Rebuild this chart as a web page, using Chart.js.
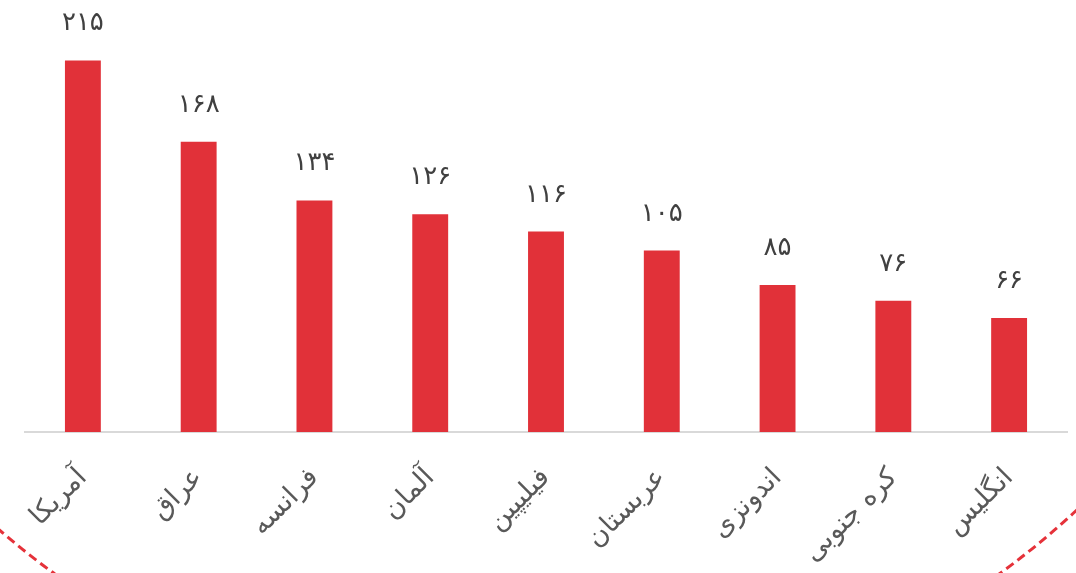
<!DOCTYPE html>
<html>
<head>
<meta charset="utf-8">
<script src="https://cdn.jsdelivr.net/npm/chart.js@4.4.1/dist/chart.umd.min.js"></script>
<style>
html,body{margin:0;padding:0;background:#fff;}
#wrap{width:1076px;height:573px;position:relative;}
</style>
</head>
<body>
<div id="wrap"><canvas id="c" width="1076" height="573"></canvas></div>
<script>
const categories = ['آمریکا','عراق','فرانسه','آلمان','فیلیپین','عربستان','اندونزی','کره جنوبی','انگلیس'];
const values = [215,168,134,126,116,105,85,76,66];
const yMax = 250;

const BAR = '#e13139';
function fa(n){ return String(n).replace(/[0-9]/g, d => '۰۱۲۳۴۵۶۷۸۹'[d]); }

const valueLabels = {
  id:'valueLabels',
  afterDatasetsDraw(chart){
    const ctx = chart.ctx;
    const meta = chart.getDatasetMeta(0);
    ctx.save();
    ctx.font = '26px "DejaVu Sans"';
    ctx.fillStyle = '#404040';
    ctx.textAlign = 'center';
    ctx.textBaseline = 'alphabetic';
    meta.data.forEach((bar,i)=>{
      ctx.fillText(fa(values[i]), bar.x, bar.y - 30);
    });
    ctx.restore();
  }
};

const decor = {
  id:'decor',
  afterDraw(chart){
    const ctx = chart.ctx;
    ctx.save();
    ctx.strokeStyle = '#e5323a';
    ctx.lineWidth = 3;
    ctx.setLineDash([9,5]);
    ctx.beginPath();
    ctx.arc(527,-78,805,0,Math.PI);
    ctx.stroke();
    ctx.restore();
  }
};

new Chart(document.getElementById('c'),{
  type:'bar',
  data:{
    labels:categories,
    datasets:[{data:values, backgroundColor:BAR, barPercentage:0.31, categoryPercentage:1}]
  },
  options:{
    responsive:false,
    animation:false,
    layout:{padding:{left:25,right:9,top:0,bottom:0}},
    plugins:{legend:{display:false},tooltip:{enabled:false}},
    scales:{
      y:{display:false,min:0,max:yMax},
      x:{
        grid:{display:false},
        border:{display:true,color:'#d9d9d9',width:2},
        ticks:{
          minRotation:45,maxRotation:45,
          color:'#595959',
          font:{family:'"DejaVu Sans"',size:27},
          padding:22,
          autoSkip:false
        },
        afterFit(s){ s.height = 141; }
      }
    }
  },
  plugins:[valueLabels, decor]
});
</script>
</body>
</html>
